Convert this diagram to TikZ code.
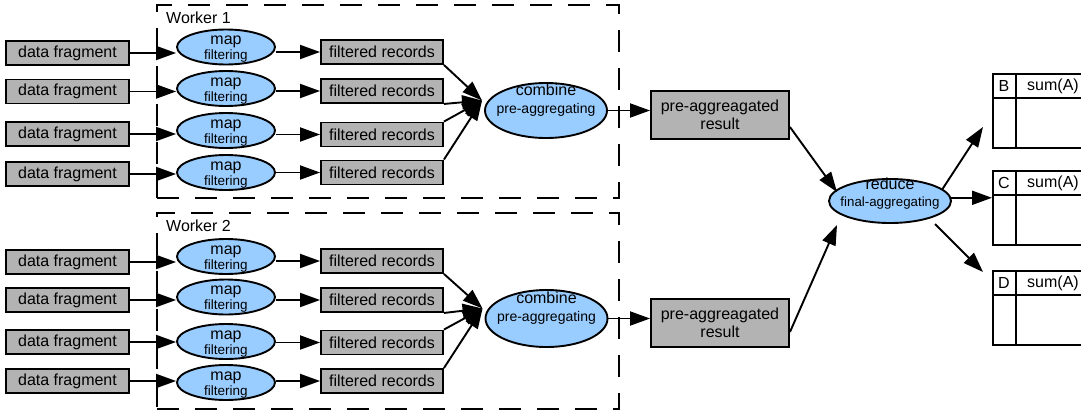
\documentclass[tikz,border=0pt]{standalone}
\usepackage{fontspec}
\setmainfont{Liberation Sans}
\usetikzlibrary{arrows.meta,shapes.geometric}
\definecolor{boxgray}{HTML}{B3B3B3}
\definecolor{ellblue}{HTML}{99CCFF}
\begin{document}
\begin{tikzpicture}[x=1pt,y=-1pt,
  every node/.style={inner sep=0pt, font=\fontsize{16}{18}\selectfont},
  gbox/.style={draw, fill=boxgray, line width=1.9pt, minimum width=123pt, minimum height=24pt},
  ell/.style={ellipse, draw, fill=ellblue, line width=1.9pt},
  mapell/.style={ell, minimum width=98pt, minimum height=35pt},
  twoline/.style={align=center},
  arr/.style={line width=1.9pt, -{Triangle[length=20pt,width=14pt]}},
  workerbox/.style={draw, line width=1.9pt, dash pattern=on 22pt off 16pt, anchor=north west, minimum width=462pt},
  tabbox/.style={draw, line width=1.9pt, anchor=north west, minimum width=110pt, minimum height=74pt},
]
\useasboundingbox (0,0) rectangle (1081,410);
\clip (0,0) rectangle (1081,410);
\fill[white] (0,0) rectangle (1081,410);

% worker boxes
\node[workerbox, minimum height=193pt] (w1) at (156,4) {};
\node[workerbox, minimum height=196pt] (w2) at (156,212) {};
\node[anchor=west] (w1l) at (166,18) {Worker 1};
\node[anchor=west] (w2l) at (166,226) {Worker 2};

% rows
\foreach \i/\dy/\my/\fy in {1/53/47/52, 2/91.5/88.5/91, 3/134/130.5/134.5, 4/174/172.5/172.5,
                            5/262/256.5/261, 6/300/297/300, 7/342/341.5/342.5, 8/381/382.5/381} {
  \node[gbox] (d\i) at (67.5,\dy) {data fragment};
  \node[mapell] (m\i) at (226,\my) {};
  \node[twoline, font=\fontsize{16}{15}\selectfont] (mt\i) at (226,\my+2.5) {map\\\fontsize{13.5}{15}\selectfont filtering};
  \node[gbox, minimum width=122pt] (f\i) at (382,\fy) {filtered records};
  \draw[arr] (d\i.east) -- (d\i.east -| m\i.west);
  \draw[arr] (m\i.east |- f\i.west) -- (f\i.west);
}

% combine nodes
\node[ell, minimum width=122pt, minimum height=55pt] (c1) at (546,110.5) {};
\node[twoline, font=\fontsize{16}{18}\selectfont] (c1t) at (546,100) {combine\\\fontsize{14}{18}\selectfont pre-aggregating};
\node[ell, minimum width=122pt, minimum height=57pt] (c2) at (546.5,318.5) {};
\node[twoline, font=\fontsize{16}{18}\selectfont] (c2t) at (546.5,308) {combine\\\fontsize{14}{18}\selectfont pre-aggregating};

\foreach \i/\a in {1/south east, 2/south east, 3/north east, 4/north east}
  \draw[arr] (f\i.\a) -- ([xshift=-2pt,yshift=10pt]c1.west);
\foreach \i/\a in {5/south east, 6/south east, 7/north east, 8/north east}
  \draw[arr] (f\i.\a) -- ([xshift=-2pt,yshift=10pt]c2.west);

% pre-aggregated results
\node[gbox, minimum width=138pt, minimum height=48pt, twoline, font=\fontsize{16}{17.5}\selectfont] (p1) at (720,115) {pre-aggreagated\\result};
\node[gbox, minimum width=138pt, minimum height=48pt, twoline, font=\fontsize{16}{17.5}\selectfont] (p2) at (720,323) {pre-aggreagated\\result};
\draw[arr] (c1.east) -- (c1.east -| p1.west);
\draw[arr] (c2.east) -- (c2.east -| p2.west);

% reduce
\node[ell, minimum width=122pt, minimum height=44pt] (r) at (890,201) {};
\node[twoline, font=\fontsize{16}{17}\selectfont] (rt) at (890,194) {reduce\\\fontsize{13.3}{17}\selectfont final-aggregating};
\coordinate (rin1) at (837,192);
\coordinate (rin2) at (837,225);
\draw[arr] ([yshift=-12pt]p1.east) -- (rin1);
\draw[arr] ([yshift=-9pt]p2.east) -- (rin2);

% tables
\node[tabbox] (tB) at (992,73) {};
\node[tabbox] (tC) at (992,170) {};
\node[tabbox] (tD) at (992,270) {};
\foreach \t/\k in {tB/B, tC/C, tD/D} {
  \draw[line width=1.9pt] ([yshift=-25pt]\t.north west) -- ([yshift=-25pt]\t.north east);
  \draw[line width=2.8pt] ([xshift=24pt]\t.north west) -- ([xshift=24pt]\t.south west);
  \node (\t k) at ([xshift=12pt,yshift=-13pt]\t.north west) {\k};
  \node (\t s) at ([xshift=61pt,yshift=-13pt]\t.north west) {sum(A)};
}

% outputs
\coordinate (o1) at (983,127);
\coordinate (rs3) at (935,224);
\coordinate (o3) at (983,272);
\draw[arr] (r.13) -- (o1);
\draw[arr] (r.3) -- (r.3 -| tC.west);
\draw[arr] (rs3) -- (o3);
\end{tikzpicture}
\end{document}
